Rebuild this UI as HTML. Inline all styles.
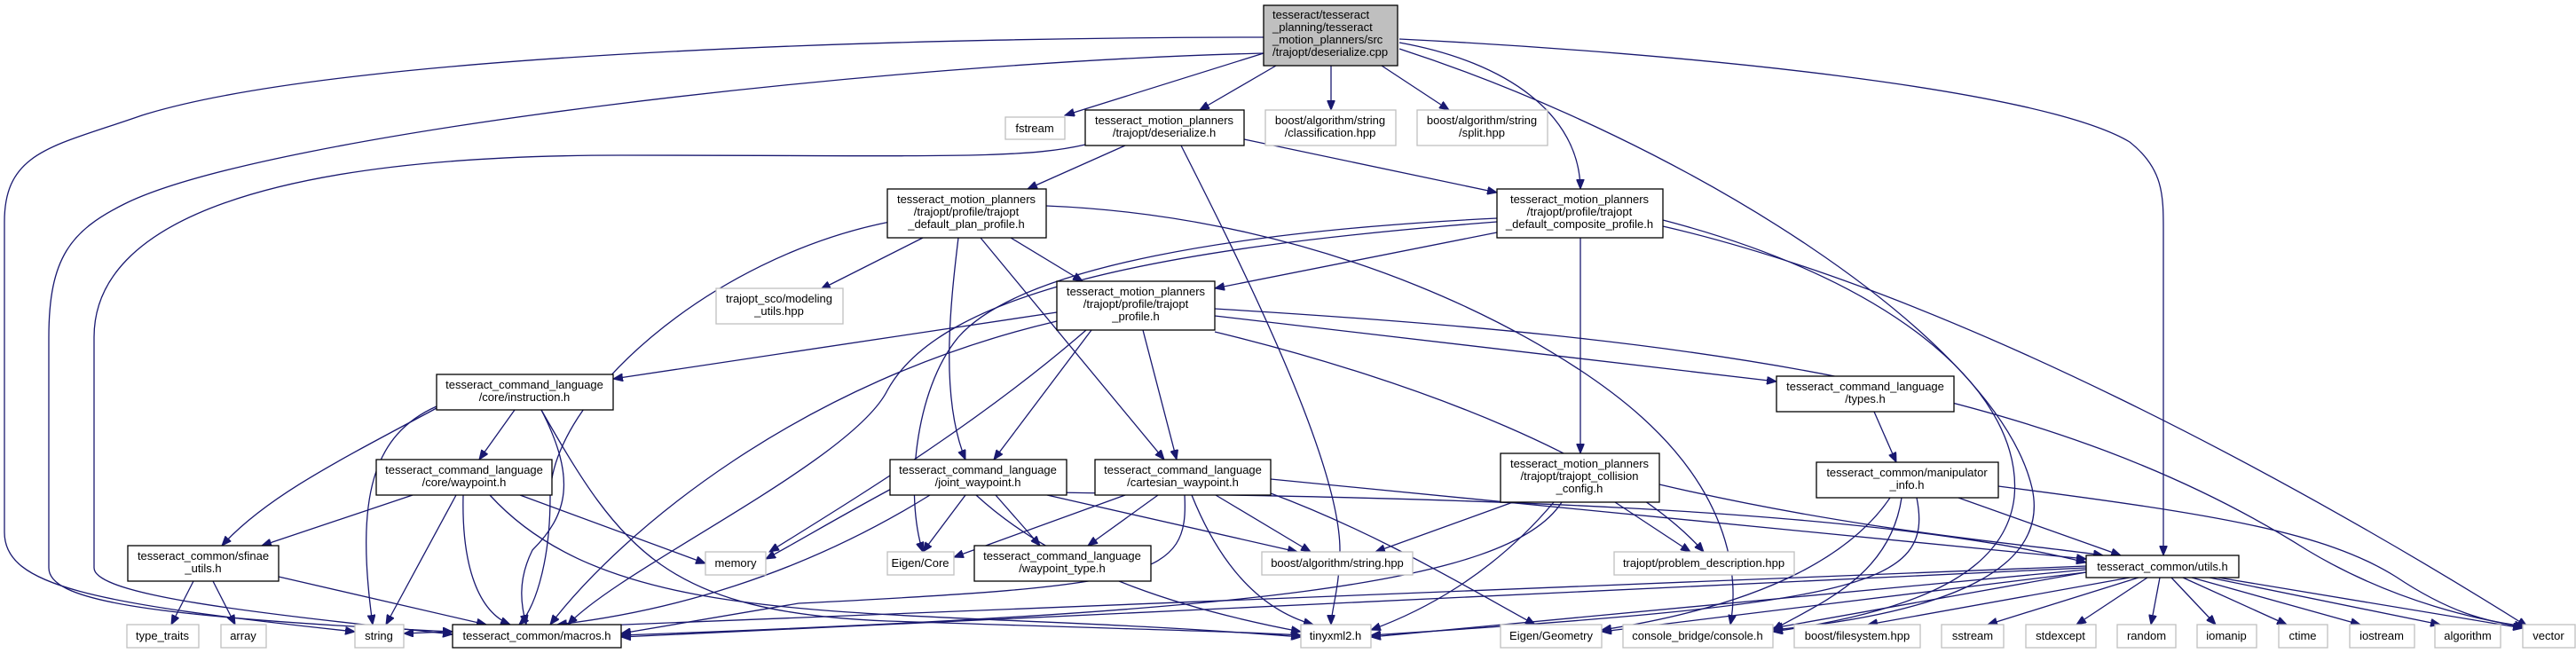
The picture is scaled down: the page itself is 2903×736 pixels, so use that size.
<!DOCTYPE html>
<html><head><meta charset="utf-8"><style>
html,body{margin:0;padding:0;background:#fff;}
svg{display:block;}
text{font-family:"Liberation Sans",Arial,sans-serif;font-size:13px;fill:#000;}
.g rect{fill:#fff;stroke:#bfbfbf;stroke-width:1.3;}
.b rect{fill:#fff;stroke:#000;stroke-width:1.3;}
.e path{fill:none;stroke:#191970;stroke-width:1.3;}
</style></head><body>
<svg width="2903" height="736" viewBox="0 0 2903 736" xmlns="http://www.w3.org/2000/svg">
<defs><marker id="a" markerUnits="userSpaceOnUse" markerWidth="12" markerHeight="9" refX="11" refY="4.5" orient="auto"><path d="M0,0 L11,4.5 L0,9 z" fill="#191970" stroke="#191970"/></marker></defs>
<g class="e" marker-end="url(#a)">
<path d="M1424,42 C1100,42 400,55 160,130 C60,165 5,170 5,250 L5,600 C5,660 100,680 400,712"/>
<path d="M1424,60 C1000,70 300,150 140,230 C80,260 55,290 55,380 L55,640 C55,675 150,695 510,712"/>
<path d="M1223,163 C1150,180 1050,175 700,175 C300,175 106,250 106,380 L106,640 C106,672 300,692 510,715"/>
<path d="M1424,60 L1200,130"/>
<path d="M1438,74 L1352,124"/>
<path d="M1500,74 L1500,124"/>
<path d="M1557,74 L1633,124"/>
<path d="M1577,48 C1700,70 1780,130 1781,213"/>
<path d="M1577,44 C1900,60 2300,100 2400,160 C2438,190 2438,220 2438,260 L2438,626"/>
<path d="M1577,55 C1900,160 2250,380 2290,550 C2310,640 2200,690 1998,710"/>
<path d="M1874,255 C2200,330 2600,550 2848,706"/>
<path d="M1874,248 C2150,320 2280,450 2270,560 C2260,650 2150,690 1998,712"/>
<path d="M1268,164 L1158,213"/>
<path d="M1402,157 L1687,217"/>
<path d="M1331,164 C1400,300 1510,520 1510,620 C1510,660 1500,690 1500,704"/>
<path d="M1139,268 L1220,317"/>
<path d="M1040,268 L925,326"/>
<path d="M1080,268 C1070,350 1060,450 1088,518"/>
<path d="M1105,268 L1312,518"/>
<path d="M1003,250 C800,290 620,450 620,560 C620,640 600,690 585,704"/>
<path d="M1179,232 C1500,245 1750,380 1850,470 C1950,560 1960,650 1950,704"/>
<path d="M1687,262 L1369,325"/>
<path d="M1781,268 L1781,511"/>
<path d="M1687,246 C1400,260 1150,300 1080,380 C1030,440 1020,560 1040,622"/>
<path d="M1687,250 C1300,280 1060,330 1000,440 C960,520 700,640 640,704"/>
<path d="M1191,352 L691,427"/>
<path d="M1224,372 C1100,480 950,570 867,622"/>
<path d="M1191,362 C900,430 700,600 620,704"/>
<path d="M1230,372 L1120,518"/>
<path d="M1288,372 L1326,518"/>
<path d="M1369,374 C1600,430 1830,520 1920,622"/>
<path d="M1369,356 L2002,430"/>
<path d="M1369,348 C1900,380 2300,430 2600,620 C2700,680 2800,700 2845,706"/>
<path d="M580,462 L540,518"/>
<path d="M492,460 C380,520 300,560 250,615"/>
<path d="M492,458 C420,490 400,560 420,704"/>
<path d="M610,462 C650,540 640,580 600,620 C580,660 590,690 593,704"/>
<path d="M610,462 C700,620 750,690 1000,700 C1300,710 1400,712 1466,716"/>
<path d="M465,558 L295,615"/>
<path d="M514,558 L435,704"/>
<path d="M522,558 C520,640 540,690 575,704"/>
<path d="M552,558 C700,720 1000,680 1466,718"/>
<path d="M586,558 L795,635"/>
<path d="M218,655 L193,704"/>
<path d="M240,655 L265,704"/>
<path d="M314,650 L548,704"/>
<path d="M1088,558 L1040,622"/>
<path d="M1122,558 L1172,615"/>
<path d="M1180,558 L1462,622"/>
<path d="M1010,548 C950,580 900,610 863,630"/>
<path d="M1048,558 C900,650 750,690 628,704"/>
<path d="M1100,558 C1200,650 1350,690 1466,712"/>
<path d="M1180,555 C1600,560 2100,570 2351,634"/>
<path d="M1268,558 L1075,628"/>
<path d="M1305,558 L1226,615"/>
<path d="M1370,558 L1477,622"/>
<path d="M1343,558 C1380,650 1430,690 1480,704"/>
<path d="M1335,558 C1340,650 1300,660 900,680 L700,714"/>
<path d="M1432,556 C1550,600 1650,660 1730,704"/>
<path d="M1432,540 L2351,630"/>
<path d="M1705,566 L1550,622"/>
<path d="M1751,566 C1680,650 1600,690 1545,710"/>
<path d="M1760,566 C1700,660 1400,690 700,716"/>
<path d="M1820,566 L1905,622"/>
<path d="M1870,546 C2100,600 2300,615 2370,626"/>
<path d="M2112,464 L2137,521"/>
<path d="M2207,561 L2390,626"/>
<path d="M2252,548 C2500,580 2620,600 2700,650 C2760,690 2800,700 2845,707"/>
<path d="M2143,561 C2130,650 2050,680 1998,710"/>
<path d="M2130,561 C2090,620 2000,680 1805,710"/>
<path d="M2160,561 C2180,660 2100,680 1545,716"/>
<path d="M2400,651 L2105,704"/>
<path d="M2410,651 L2240,704"/>
<path d="M2420,651 L2340,704"/>
<path d="M2434,651 L2424,704"/>
<path d="M2447,651 L2497,704"/>
<path d="M2460,651 L2577,704"/>
<path d="M2470,651 L2660,704"/>
<path d="M2490,651 L2750,704"/>
<path d="M2500,651 L2843,708"/>
<path d="M2351,645 L1998,708"/>
<path d="M2351,645 L1805,712"/>
<path d="M2351,642 L1545,718"/>
<path d="M2351,640 L700,718"/>
<path d="M2351,638 L455,714"/>
</g>
<g class="b"><rect x="1424" y="6" width="151" height="68" fill="#bfbfbf" style="fill:#bfbfbf"/>
<text x="1434" y="21">tesseract/tesseract</text><text x="1434" y="35">_planning/tesseract</text><text x="1434" y="49">_motion_planners/src</text><text x="1434" y="63">/trajopt/deserialize.cpp</text></g>
<g class="g" text-anchor="middle">
<rect x="1133" y="132" width="67" height="25"/><text x="1166" y="149">fstream</text>
<rect x="1426" y="124" width="147" height="40"/><text x="1499" y="140">boost/algorithm/string</text><text x="1499" y="154">/classification.hpp</text>
<rect x="1597" y="124" width="147" height="40"/><text x="1670" y="140">boost/algorithm/string</text><text x="1670" y="154">/split.hpp</text>
<rect x="807" y="325" width="143" height="40"/><text x="878" y="341">trajopt_sco/modeling</text><text x="878" y="355">_utils.hpp</text>
<rect x="795" y="622" width="68" height="26"/><text x="829" y="639">memory</text>
<rect x="1000" y="622" width="75" height="26"/><text x="1037" y="639">Eigen/Core</text>
<rect x="1422" y="622" width="170" height="26"/><text x="1507" y="639">boost/algorithm/string.hpp</text>
<rect x="1819" y="622" width="203" height="26"/><text x="1920" y="639">trajopt/problem_description.hpp</text>
<rect x="143" y="704" width="81" height="26"/><text x="183" y="721">type_traits</text>
<rect x="249" y="704" width="51" height="26"/><text x="274" y="721">array</text>
<rect x="400" y="704" width="55" height="26"/><text x="427" y="721">string</text>
<rect x="1466" y="704" width="79" height="26"/><text x="1505" y="721">tinyxml2.h</text>
<rect x="1691" y="704" width="114" height="26"/><text x="1748" y="721">Eigen/Geometry</text>
<rect x="1829" y="704" width="169" height="26"/><text x="1913" y="721">console_bridge/console.h</text>
<rect x="2022" y="704" width="142" height="26"/><text x="2093" y="721">boost/filesystem.hpp</text>
<rect x="2188" y="704" width="70" height="26"/><text x="2223" y="721">sstream</text>
<rect x="2283" y="704" width="79" height="26"/><text x="2322" y="721">stdexcept</text>
<rect x="2386" y="704" width="66" height="26"/><text x="2419" y="721">random</text>
<rect x="2476" y="704" width="67" height="26"/><text x="2509" y="721">iomanip</text>
<rect x="2568" y="704" width="55" height="26"/><text x="2595" y="721">ctime</text>
<rect x="2648" y="704" width="73" height="26"/><text x="2684" y="721">iostream</text>
<rect x="2744" y="704" width="74" height="26"/><text x="2781" y="721">algorithm</text>
<rect x="2843" y="704" width="59" height="26"/><text x="2872" y="721">vector</text>
</g>
<g class="b" text-anchor="middle">
<rect x="1223" y="124" width="179" height="40"/><text x="1312" y="140">tesseract_motion_planners</text><text x="1312" y="154">/trajopt/deserialize.h</text>
<rect x="1000" y="213" width="179" height="55"/><text x="1089" y="229">tesseract_motion_planners</text><text x="1089" y="243">/trajopt/profile/trajopt</text><text x="1089" y="257">_default_plan_profile.h</text>
<rect x="1687" y="213" width="187" height="55"/><text x="1780" y="229">tesseract_motion_planners</text><text x="1780" y="243">/trajopt/profile/trajopt</text><text x="1780" y="257">_default_composite_profile.h</text>
<rect x="1191" y="317" width="178" height="55"/><text x="1280" y="333">tesseract_motion_planners</text><text x="1280" y="347">/trajopt/profile/trajopt</text><text x="1280" y="361">_profile.h</text>
<rect x="492" y="422" width="199" height="40"/><text x="591" y="438">tesseract_command_language</text><text x="591" y="452">/core/instruction.h</text>
<rect x="424" y="518" width="198" height="40"/><text x="523" y="534">tesseract_command_language</text><text x="523" y="548">/core/waypoint.h</text>
<rect x="144" y="615" width="170" height="40"/><text x="229" y="631">tesseract_common/sfinae</text><text x="229" y="645">_utils.h</text>
<rect x="510" y="704" width="190" height="26"/><text x="605" y="721">tesseract_common/macros.h</text>
<rect x="1003" y="518" width="199" height="40"/><text x="1102" y="534">tesseract_command_language</text><text x="1102" y="548">/joint_waypoint.h</text>
<rect x="1234" y="518" width="198" height="40"/><text x="1333" y="534">tesseract_command_language</text><text x="1333" y="548">/cartesian_waypoint.h</text>
<rect x="1098" y="615" width="199" height="40"/><text x="1197" y="631">tesseract_command_language</text><text x="1197" y="645">/waypoint_type.h</text>
<rect x="1691" y="511" width="179" height="55"/><text x="1780" y="527">tesseract_motion_planners</text><text x="1780" y="541">/trajopt/trajopt_collision</text><text x="1780" y="555">_config.h</text>
<rect x="2002" y="424" width="200" height="40"/><text x="2102" y="440">tesseract_command_language</text><text x="2102" y="454">/types.h</text>
<rect x="2047" y="521" width="205" height="40"/><text x="2149" y="537">tesseract_common/manipulator</text><text x="2149" y="551">_info.h</text>
<rect x="2351" y="626" width="172" height="25"/><text x="2437" y="643">tesseract_common/utils.h</text>
</g>
</svg>
</body></html>
